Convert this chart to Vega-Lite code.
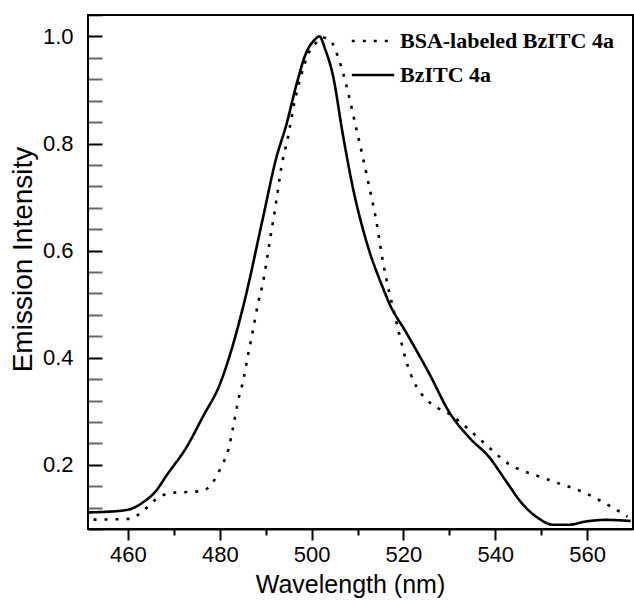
{
  "$schema": "https://vega.github.io/schema/vega-lite/v6.json",
  "width": 545,
  "height": 514,
  "autosize": {"type": "none"},
  "padding": {"left": 88, "top": 15, "right": 1, "bottom": 72},
  "background": "white",
  "config": {
    "view": {"stroke": "black", "strokeWidth": 2},
    "axis": {"domainColor": "black", "domainWidth": 2, "tickColor": "black", "tickWidth": 2, "grid": false,
      "labelFont": "Liberation Sans", "labelFontSize": 22, "labelColor": "black",
      "titleFont": "Liberation Sans", "titleFontWeight": "normal", "titleColor": "black"}
  },
  "data": {"values": [
    {"series": "BzITC 4a", "wl": 451.3, "v": 0.111},
    {"series": "BzITC 4a", "wl": 455, "v": 0.112},
    {"series": "BzITC 4a", "wl": 460, "v": 0.116},
    {"series": "BzITC 4a", "wl": 463.3, "v": 0.130},
    {"series": "BzITC 4a", "wl": 466, "v": 0.150},
    {"series": "BzITC 4a", "wl": 468.4, "v": 0.180},
    {"series": "BzITC 4a", "wl": 472.7, "v": 0.232},
    {"series": "BzITC 4a", "wl": 476.4, "v": 0.291},
    {"series": "BzITC 4a", "wl": 480, "v": 0.350},
    {"series": "BzITC 4a", "wl": 482.9, "v": 0.425},
    {"series": "BzITC 4a", "wl": 485.4, "v": 0.506},
    {"series": "BzITC 4a", "wl": 489.4, "v": 0.661},
    {"series": "BzITC 4a", "wl": 492.3, "v": 0.773},
    {"series": "BzITC 4a", "wl": 494.5, "v": 0.835},
    {"series": "BzITC 4a", "wl": 496.7, "v": 0.910},
    {"series": "BzITC 4a", "wl": 498.8, "v": 0.969},
    {"series": "BzITC 4a", "wl": 500.7, "v": 0.994},
    {"series": "BzITC 4a", "wl": 501.7, "v": 1.0},
    {"series": "BzITC 4a", "wl": 503, "v": 0.975},
    {"series": "BzITC 4a", "wl": 504.6, "v": 0.929},
    {"series": "BzITC 4a", "wl": 506.8, "v": 0.817},
    {"series": "BzITC 4a", "wl": 509, "v": 0.717},
    {"series": "BzITC 4a", "wl": 511.9, "v": 0.618},
    {"series": "BzITC 4a", "wl": 515.5, "v": 0.531},
    {"series": "BzITC 4a", "wl": 517, "v": 0.500},
    {"series": "BzITC 4a", "wl": 520.6, "v": 0.447},
    {"series": "BzITC 4a", "wl": 525.7, "v": 0.369},
    {"series": "BzITC 4a", "wl": 530, "v": 0.298},
    {"series": "BzITC 4a", "wl": 534.3, "v": 0.251},
    {"series": "BzITC 4a", "wl": 538.7, "v": 0.214},
    {"series": "BzITC 4a", "wl": 542.3, "v": 0.170},
    {"series": "BzITC 4a", "wl": 545.9, "v": 0.127},
    {"series": "BzITC 4a", "wl": 549.6, "v": 0.099},
    {"series": "BzITC 4a", "wl": 552.5, "v": 0.088},
    {"series": "BzITC 4a", "wl": 556.1, "v": 0.088},
    {"series": "BzITC 4a", "wl": 559.7, "v": 0.094},
    {"series": "BzITC 4a", "wl": 564, "v": 0.097},
    {"series": "BzITC 4a", "wl": 569.5, "v": 0.095},
    {"series": "BSA-labeled BzITC 4a", "wl": 452.5, "v": 0.0975},
    {"series": "BSA-labeled BzITC 4a", "wl": 460.4, "v": 0.099},
    {"series": "BSA-labeled BzITC 4a", "wl": 463.3, "v": 0.114},
    {"series": "BSA-labeled BzITC 4a", "wl": 466.2, "v": 0.136},
    {"series": "BSA-labeled BzITC 4a", "wl": 469.1, "v": 0.147},
    {"series": "BSA-labeled BzITC 4a", "wl": 472.8, "v": 0.149},
    {"series": "BSA-labeled BzITC 4a", "wl": 476, "v": 0.151},
    {"series": "BSA-labeled BzITC 4a", "wl": 478.5, "v": 0.167},
    {"series": "BSA-labeled BzITC 4a", "wl": 480.4, "v": 0.198},
    {"series": "BSA-labeled BzITC 4a", "wl": 481.8, "v": 0.226},
    {"series": "BSA-labeled BzITC 4a", "wl": 482.9, "v": 0.270},
    {"series": "BSA-labeled BzITC 4a", "wl": 484, "v": 0.320},
    {"series": "BSA-labeled BzITC 4a", "wl": 485.1, "v": 0.357},
    {"series": "BSA-labeled BzITC 4a", "wl": 486.2, "v": 0.407},
    {"series": "BSA-labeled BzITC 4a", "wl": 487.2, "v": 0.450},
    {"series": "BSA-labeled BzITC 4a", "wl": 488.3, "v": 0.500},
    {"series": "BSA-labeled BzITC 4a", "wl": 489.4, "v": 0.540},
    {"series": "BSA-labeled BzITC 4a", "wl": 490.9, "v": 0.618},
    {"series": "BSA-labeled BzITC 4a", "wl": 492.3, "v": 0.692},
    {"series": "BSA-labeled BzITC 4a", "wl": 493.4, "v": 0.755},
    {"series": "BSA-labeled BzITC 4a", "wl": 494.9, "v": 0.814},
    {"series": "BSA-labeled BzITC 4a", "wl": 496.3, "v": 0.879},
    {"series": "BSA-labeled BzITC 4a", "wl": 497.8, "v": 0.929},
    {"series": "BSA-labeled BzITC 4a", "wl": 499.2, "v": 0.966},
    {"series": "BSA-labeled BzITC 4a", "wl": 500.7, "v": 0.985},
    {"series": "BSA-labeled BzITC 4a", "wl": 502.5, "v": 0.998},
    {"series": "BSA-labeled BzITC 4a", "wl": 503.9, "v": 0.994},
    {"series": "BSA-labeled BzITC 4a", "wl": 506.1, "v": 0.953},
    {"series": "BSA-labeled BzITC 4a", "wl": 507.9, "v": 0.897},
    {"series": "BSA-labeled BzITC 4a", "wl": 509.7, "v": 0.829},
    {"series": "BSA-labeled BzITC 4a", "wl": 511.2, "v": 0.773},
    {"series": "BSA-labeled BzITC 4a", "wl": 512.6, "v": 0.717},
    {"series": "BSA-labeled BzITC 4a", "wl": 514.1, "v": 0.655},
    {"series": "BSA-labeled BzITC 4a", "wl": 515.5, "v": 0.581},
    {"series": "BSA-labeled BzITC 4a", "wl": 517, "v": 0.519},
    {"series": "BSA-labeled BzITC 4a", "wl": 517.7, "v": 0.494},
    {"series": "BSA-labeled BzITC 4a", "wl": 519.1, "v": 0.444},
    {"series": "BSA-labeled BzITC 4a", "wl": 520.6, "v": 0.394},
    {"series": "BSA-labeled BzITC 4a", "wl": 522.7, "v": 0.348},
    {"series": "BSA-labeled BzITC 4a", "wl": 524.9, "v": 0.323},
    {"series": "BSA-labeled BzITC 4a", "wl": 527.5, "v": 0.306},
    {"series": "BSA-labeled BzITC 4a", "wl": 530, "v": 0.295},
    {"series": "BSA-labeled BzITC 4a", "wl": 532.9, "v": 0.276},
    {"series": "BSA-labeled BzITC 4a", "wl": 535.8, "v": 0.254},
    {"series": "BSA-labeled BzITC 4a", "wl": 538.7, "v": 0.232},
    {"series": "BSA-labeled BzITC 4a", "wl": 540.9, "v": 0.215},
    {"series": "BSA-labeled BzITC 4a", "wl": 543, "v": 0.201},
    {"series": "BSA-labeled BzITC 4a", "wl": 545.9, "v": 0.189},
    {"series": "BSA-labeled BzITC 4a", "wl": 550.3, "v": 0.176},
    {"series": "BSA-labeled BzITC 4a", "wl": 553.2, "v": 0.167},
    {"series": "BSA-labeled BzITC 4a", "wl": 558.3, "v": 0.152},
    {"series": "BSA-labeled BzITC 4a", "wl": 563.3, "v": 0.131},
    {"series": "BSA-labeled BzITC 4a", "wl": 566.2, "v": 0.117},
    {"series": "BSA-labeled BzITC 4a", "wl": 568.8, "v": 0.103}
  ]},
  "mark": {"type": "line", "color": "black", "strokeWidth": 2.6, "clip": true, "interpolate": "monotone"},
  "encoding": {
    "x": {"field": "wl", "type": "quantitative", "scale": {"domain": [451.3, 570], "nice": false, "zero": false},
      "axis": {"title": "Wavelength (nm)", "titleFontSize": 25, "values": [460, 470, 480, 490, 500, 510, 520, 530, 540, 550, 560],
        "labelExpr": "datum.value % 20 == 0 ? datum.label : ''",
        "tickSize": 11,
        "tickDash": {"condition": {"test": "datum.value % 20 == 0", "value": [11, 0]}, "value": [6, 20]},
        "labelPadding": 4, "labelFlush": false, "zindex": 1,
        "titleX": 262, "titleY": 63, "titleAlign": "center", "titleBaseline": "alphabetic", "titleAnchor": null}},
    "y": {"field": "v", "type": "quantitative", "scale": {"domain": [0.08, 1.04], "nice": false, "zero": false},
      "axis": {"title": "Emission Intensity", "titleFontSize": 28, "values": [0.08, 0.12, 0.16, 0.2, 0.24, 0.28, 0.32, 0.36, 0.4, 0.44, 0.48, 0.52, 0.56, 0.6, 0.64, 0.68, 0.72, 0.76, 0.8, 0.84, 0.88, 0.92, 0.96, 1.0, 1.04],
        "labelExpr": "abs(datum.value*5 - round(datum.value*5)) < 0.001 ? format(datum.value, '.1f') : ''",
        "domain": false, "offset": -14, "tickSize": 14, "ticks": true,
        "tickOpacity": {"condition": {"test": "abs(datum.value*5 - round(datum.value*5)) < 0.001", "value": 1}, "value": 0.6},
        "labelPadding": 15, "labelFlush": false, "labelBaseline": "middle", "zindex": 1,
        "titleX": -79, "titleY": 244, "titleAngle": -90, "titleAlign": "center", "titleBaseline": "middle", "titleAnchor": null}},
    "strokeDash": {"field": "series", "type": "nominal",
      "scale": {"domain": ["BSA-labeled BzITC 4a", "BzITC 4a"], "range": [[3, 8], [1, 0]]},
      "legend": {"title": null, "orient": "none", "legendX": 262, "legendY": 3,
        "symbolType": "stroke", "symbolSize": 1800, "symbolStrokeColor": "black", "symbolStrokeWidth": 2.6,
        "labelFont": "Liberation Serif", "labelFontWeight": "bold", "labelFontSize": 22, "labelColor": "black",
        "labelLimit": 0, "rowPadding": 0, "labelOffset": 4}}
  }
}
